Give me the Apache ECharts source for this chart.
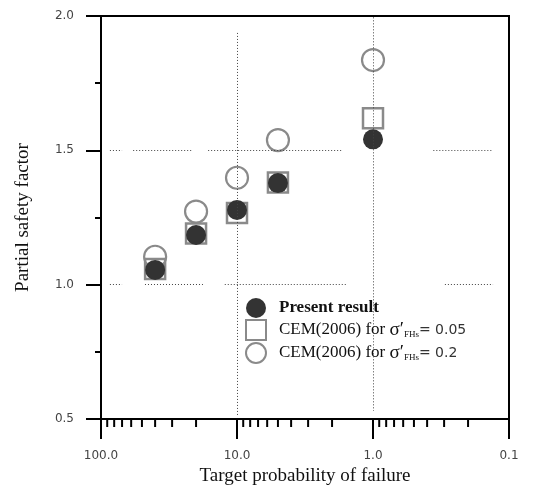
<!DOCTYPE html>
<html><head><meta charset="utf-8">
<script src="https://cdn.jsdelivr.net/npm/echarts@6/dist/echarts.min.js"></script>
<style>html,body{margin:0;padding:0;background:#fff}#c{width:542px;height:486px}</style>
</head><body><div id="c"></div>
<script>
// ---- data ----
const probabilities = [40, 20, 10, 5, 1];
const presentResult = [1.055, 1.185, 1.278, 1.378, 1.541];
const cem005 = [1.058, 1.19, 1.267, 1.38, 1.619];
const cem02 = [1.104, 1.272, 1.398, 1.538, 1.836];
const xMinorTicks = [90,80,70,60,50,40,30,20,9,8,7,6,5,4,3,2,0.9,0.8,0.7,0.6,0.5,0.4,0.3,0.2];
const seriesNames = ['Present result', 'CEM(2006) for σ′FHs = 0.05', 'CEM(2006) for σ′FHs = 0.2'];

// dotted reference line pieces (data coordinates)
const hSegments = [
  [1.5, 86, 70], [1.5, 58, 21], [1.5, 16.3, 1.66], [1.5, 0.36, 0.131],
  [1.0, 86, 70], [1.0, 47.5, 17.8], [1.0, 12.3, 1.55], [1.0, 0.296, 0.131]
];
const vSegments = [[10, 1.937, 0.515], [1, 1.995, 0.53]];

const zip = (xs, ys) => xs.map((x, i) => [x, ys[i]]);
const markData = [];
hSegments.forEach(s => markData.push([{coord: [s[1], s[0]]}, {coord: [s[2], s[0]]}]));
vSegments.forEach(s => markData.push([{coord: [s[0], s[1]]}, {coord: [s[0], s[2]]}]));

const serif = 'Liberation Serif';
const chart = echarts.init(document.getElementById('c'));
chart.setOption({
  animation: false,
  backgroundColor: '#fff',
  grid: {left: 101, right: 33, top: 16, bottom: 67, containLabel: false, outerBoundsMode: 'none',
    show: true, borderColor: '#000', borderWidth: 2, backgroundColor: 'transparent'},
  xAxis: {
    type: 'log', logBase: 10, min: 0.1, max: 100, inverse: true,
    name: 'Target probability of failure', nameLocation: 'middle', nameGap: 42,
    nameTextStyle: {fontFamily: serif, fontSize: 19, color: '#111'},
    axisLine: {lineStyle: {color: '#000', width: 2}},
    axisTick: {length: 20, lineStyle: {color: '#000', width: 2}},
    axisLabel: {margin: 31, fontFamily: 'DejaVu Sans', fontSize: 12, color: '#444',
      formatter: v => Number(v).toFixed(1)},
    splitLine: {show: false}
  },
  yAxis: {
    type: 'value', min: 0.5, max: 2.0, interval: 0.5,
    name: 'Partial safety factor', nameLocation: 'middle', nameGap: 68,
    nameTextStyle: {fontFamily: serif, fontSize: 19, color: '#111'},
    axisLine: {lineStyle: {color: '#000', width: 2}},
    axisTick: {length: 15, lineStyle: {color: '#000', width: 2}},
    minorTick: {show: true, splitNumber: 2, length: 6, lineStyle: {color: '#000', width: 2}},
    axisLabel: {margin: 27, fontFamily: 'DejaVu Sans', fontSize: 12, color: '#444',
      formatter: v => v.toFixed(1)},
    splitLine: {show: false}
  },
  legend: {
    orient: 'vertical', left: 240, top: 293, itemWidth: 20, itemHeight: 20, itemGap: 1,
    data: [seriesNames[0], seriesNames[1], seriesNames[2]],
    formatter: name => {
      if (name === seriesNames[0]) return '{b|Present result}';
      const val = name === seriesNames[1] ? '0.05' : '0.2';
      return '{t|CEM(2006) for }{s|σ′}{sub|FHs}{e|= ' + val + '}';
    },
    textStyle: {
      rich: {
        b: {fontFamily: serif, fontSize: 17, fontWeight: 'bold', color: '#111', padding: [0, 0, 0, 8]},
        t: {fontFamily: serif, fontSize: 17, color: '#111', padding: [0, 0, 0, 8]},
        s: {fontFamily: serif, fontSize: 19, color: '#111'},
        sub: {fontFamily: serif, fontSize: 9, lineHeight: 10, color: '#111', padding: [10, 0, 0, 0]},
        e: {fontFamily: 'DejaVu Sans', fontSize: 14, color: '#333'}
      }
    }
  },
  series: [
    {
      type: 'scatter', name: 'ticks', data: xMinorTicks.map(v => [v, 0.5]),
      symbol: 'rect', symbolSize: [2, 8], symbolOffset: [0, 4], clip: false, silent: true,
      itemStyle: {color: '#000', opacity: 1}, z: 5,
      markLine: {silent: true, symbol: 'none', label: {show: false},
        lineStyle: {type: [1, 2], color: '#444', width: 1}, data: markData}
    },
    {
      type: 'scatter', name: seriesNames[2], data: zip(probabilities, cem02),
      symbol: 'circle', symbolSize: 22,
      itemStyle: {color: 'rgba(255,255,255,0)', borderColor: '#8a8a8a', borderWidth: 2.2, opacity: 1}, z: 3
    },
    {
      type: 'scatter', name: seriesNames[1], data: zip(probabilities, cem005),
      symbol: 'rect', symbolSize: 20,
      itemStyle: {color: 'rgba(255,255,255,0)', borderColor: '#8a8a8a', borderWidth: 2.5, opacity: 1}, z: 3
    },
    {
      type: 'scatter', name: seriesNames[0], data: zip(probabilities, presentResult),
      symbol: 'circle', symbolSize: 20,
      itemStyle: {color: '#333', opacity: 1}, z: 4
    }
  ]
});
</script>
</body></html>
